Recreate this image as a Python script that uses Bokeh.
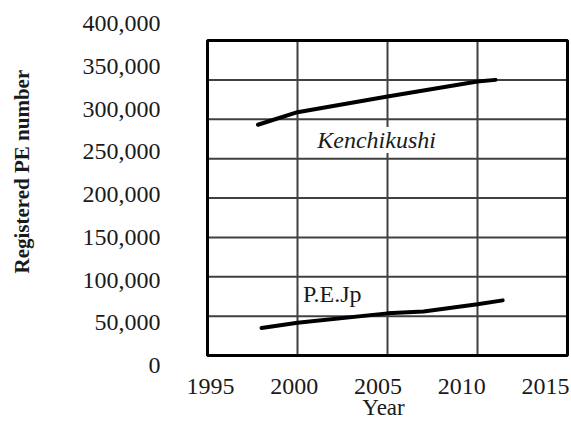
import math
from bokeh.plotting import figure
from bokeh.models import Range1d, Label, LabelSet, ColumnDataSource
from bokeh.embed import file_html
from bokeh.resources import INLINE

# ---- data ----
x_ticks = [1995, 2000, 2005, 2010, 2015]
y_ticks = [0, 50000, 100000, 150000, 200000, 250000, 300000, 350000, 400000]
x_tick_labels = [str(v) for v in x_ticks]
y_tick_labels = ["{:,}".format(v) for v in y_ticks]

ken_years = [1997.8, 2000, 2005, 2010, 2011]
ken_values = [293000, 309000, 329000, 348000, 350000]

pe_years = [1998, 2000, 2005, 2007, 2010, 2011.4]
pe_values = [35000, 41500, 53500, 56000, 65000, 70000]

series_names = ["Kenchikushi", "P.E.Jp"]
label_x = [2001.1, 2000.3]
label_y = [273500, 77600]

y_title = "Registered PE number"
x_title = "Year"

FONT = "Liberation Serif"
TXT = "#1a1a1a"
GRID = "#404040"

W, H = 570, 424
# plot area: 1995..2015 -> 207..567 px, 0..400000 -> 355..40 px
p = figure(width=W, height=H, output_backend="svg", toolbar_location=None,
           x_range=Range1d(1983.5, 2015.1667), y_range=Range1d(-87619, 450794),
           x_axis_location=None, y_axis_location=None,
           min_border=0, min_border_left=0, min_border_right=0,
           min_border_top=0, min_border_bottom=0)
p.outline_line_color = None
p.xgrid.visible = False
p.ygrid.visible = False
p.background_fill_color = "white"
p.border_fill_color = "white"

# label scales (the original's tick labels are spaced differently from its grid)
p.extra_y_ranges = {"ylab": Range1d(-69006, 426901)}
p.extra_x_ranges = {"xlab": Range1d(1982.463, 2016.493)}

# grid lines
inner_x = x_ticks[1:-1]
inner_y = y_ticks[1:-1]
p.segment(x0=inner_x, y0=[y_ticks[0]] * len(inner_x), x1=inner_x, y1=[y_ticks[-1]] * len(inner_x),
          line_color=GRID, line_width=2)
p.segment(x0=[x_ticks[0]] * len(inner_y), y0=inner_y, x1=[x_ticks[-1]] * len(inner_y), y1=inner_y,
          line_color=GRID, line_width=2)
# plot box
p.quad(left=[x_ticks[0]], right=[x_ticks[-1]], bottom=[y_ticks[0]], top=[y_ticks[-1]],
       fill_color=None, line_color="black", line_width=3)

# series lines
p.line(ken_years, ken_values, line_color="black", line_width=4,
       line_cap="round", line_join="round")
p.line(pe_years, pe_values, line_color="black", line_width=4,
       line_cap="round", line_join="round")

# y tick labels
ysrc = ColumnDataSource(dict(v=y_ticks, t=y_tick_labels, x=[1992.39] * len(y_ticks)))
p.add_layout(LabelSet(x="x", y="v", text="t", source=ysrc, y_range_name="ylab",
                      text_align="right", text_baseline="middle",
                      text_font=FONT, text_font_size="24px", text_color=TXT))
# x tick labels
xsrc = ColumnDataSource(dict(v=x_ticks, t=x_tick_labels, y=[-39365] * len(x_ticks)))
p.add_layout(LabelSet(x="v", y="y", text="t", source=xsrc, x_range_name="xlab",
                      text_align="center", text_baseline="middle",
                      text_font=FONT, text_font_size="24px", text_color=TXT))

# axis titles
p.add_layout(Label(x=2004.78, y=-66031, text=x_title,
                   text_align="center", text_baseline="middle",
                   text_font=FONT, text_font_size="23px", text_color=TXT))
p.add_layout(Label(x=1984.67, y=104127, text=y_title, angle=math.pi / 2,
                   text_align="left", text_baseline="middle",
                   text_font=FONT, text_font_size="21px", text_font_style="bold",
                   text_color=TXT))

# series labels
p.add_layout(Label(x=label_x[0], y=label_y[0], text=series_names[0],
                   text_font=FONT, text_font_size="24px", text_font_style="italic",
                   text_color=TXT, text_baseline="alphabetic", text_line_height=1.0,
                   background_fill_color="white", padding=0))
p.add_layout(Label(x=label_x[1], y=label_y[1], text=series_names[1],
                   text_font=FONT, text_font_size="24px", text_font_style="normal",
                   text_color=TXT, text_baseline="alphabetic"))

open("out.html", "w").write(file_html(p, INLINE))
